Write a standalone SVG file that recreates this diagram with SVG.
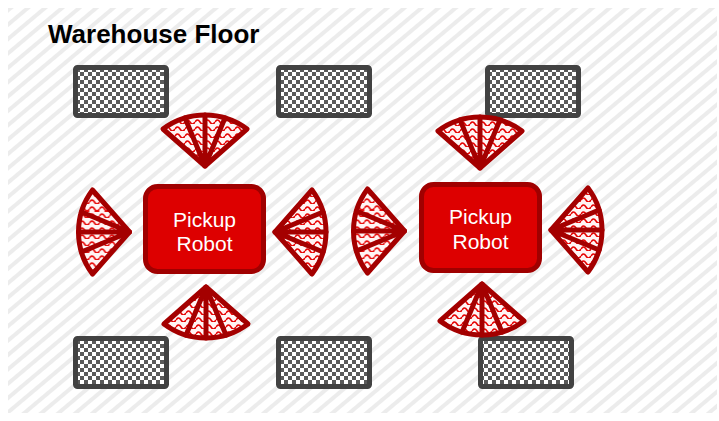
<svg xmlns="http://www.w3.org/2000/svg" xmlns:xlink="http://www.w3.org/1999/xlink" width="719" height="421" viewBox="0 0 719 421">
  <style>
    .title { font-family: "Liberation Sans", Arial, sans-serif; font-weight: bold; font-size: 26px; fill: #000; }
    .shelf { fill: url(#checker); stroke: #424242; stroke-width: 5; }
    .robot rect { fill: #dd0000; stroke: #a00000; stroke-width: 5; }
    .robot text { font-family: "Liberation Sans", Arial, sans-serif; font-size: 21px; fill: #ffffff; text-anchor: middle; }
    .fan-body { fill: url(#waves); stroke: #a40000; stroke-width: 5; stroke-linejoin: round; }
    .fan-spokes { fill: none; stroke: #a40000; stroke-width: 5; stroke-linecap: round; }
  </style>
  <defs>
    <pattern id="stripes" patternUnits="userSpaceOnUse" width="11" height="11" patternTransform="rotate(-40)">
      <rect width="11" height="11" fill="#ffffff"/>
      <rect width="11" height="4" fill="#ececec"/>
    </pattern>
    <pattern id="checker" patternUnits="userSpaceOnUse" width="8" height="8">
      <rect width="8" height="8" fill="#ffffff"/>
      <rect width="4" height="4" fill="#5a5a5a"/>
      <rect x="4" y="4" width="4" height="4" fill="#5a5a5a"/>
    </pattern>
    <pattern id="waves" patternUnits="userSpaceOnUse" width="10" height="7">
      <rect width="10" height="7" fill="#fff4f4"/>
      <path d="M0,5 Q2.5,1 5,5 T10,5" fill="none" stroke="#e60000" stroke-width="1.5"/>
    </pattern>
    <g id="fan-up">
      <path class="fan-body" d="M0,0 L-42,-37 A70,70 0 0 1 42,-37 Z"/>
      <path class="fan-spokes" d="M0,0 L-20,-48.1 M0,0 L0,-51 M0,0 L20,-48.1"/>
    </g>
    <g id="fan-down">
      <path class="fan-body" d="M0,0 L42,37 A70,70 0 0 1 -42,37 Z"/>
      <path class="fan-spokes" d="M0,0 L20,48.1 M0,0 L0,51 M0,0 L-20,48.1"/>
    </g>
    <g id="fan-left">
      <path class="fan-body" d="M0,0 L-37,42 A70,70 0 0 1 -37,-42 Z"/>
      <path class="fan-spokes" d="M0,0 L-48.1,20 M0,0 L-51,0 M0,0 L-48.1,-20"/>
    </g>
    <g id="fan-right">
      <path class="fan-body" d="M0,0 L37,-42 A70,70 0 0 1 37,42 Z"/>
      <path class="fan-spokes" d="M0,0 L48.1,-20 M0,0 L51,0 M0,0 L48.1,20"/>
    </g>
  </defs>

  <rect x="0" y="0" width="719" height="421" fill="#ffffff"/>
  <g id="floor">
    <rect x="8" y="8" width="709" height="405" fill="url(#stripes)"/>
    <text class="title" x="48" y="43">Warehouse Floor</text>
  </g>

  <g id="shelf-1"><rect class="shelf" x="75.5" y="67.5" width="91" height="48" rx="2"/></g>
  <g id="shelf-2"><rect class="shelf" x="278.5" y="67.5" width="91" height="48" rx="2"/></g>
  <g id="shelf-3"><rect class="shelf" x="487.5" y="67.5" width="91" height="48" rx="2"/></g>
  <g id="shelf-4"><rect class="shelf" x="75.5" y="338.5" width="91" height="48" rx="2"/></g>
  <g id="shelf-5"><rect class="shelf" x="278.5" y="338.5" width="91" height="48" rx="2"/></g>
  <g id="shelf-6"><rect class="shelf" x="480.5" y="338.5" width="91" height="48" rx="2"/></g>

  <g id="robot-1" class="robot">
    <rect x="145.5" y="186.5" width="118" height="85" rx="12"/>
    <text x="204.5" y="226.5">Pickup</text>
    <text x="204.5" y="251">Robot</text>
  </g>
  <g id="robot-2" class="robot">
    <rect x="421.5" y="184.5" width="118" height="86" rx="12"/>
    <text x="480.5" y="223.5">Pickup</text>
    <text x="480.5" y="248.5">Robot</text>
  </g>

  <g id="sensor-1-top"><use xlink:href="#fan-up" href="#fan-up" transform="translate(205,166)"/></g>
  <g id="sensor-1-bottom"><use xlink:href="#fan-down" href="#fan-down" transform="translate(206,287)"/></g>
  <g id="sensor-1-left"><use xlink:href="#fan-left" href="#fan-left" transform="translate(129.5,232)"/></g>
  <g id="sensor-1-right"><use xlink:href="#fan-right" href="#fan-right" transform="translate(275,232)"/></g>

  <g id="sensor-2-top"><use xlink:href="#fan-up" href="#fan-up" transform="translate(480,168)"/></g>
  <g id="sensor-2-bottom"><use xlink:href="#fan-down" href="#fan-down" transform="translate(482,284)"/></g>
  <g id="sensor-2-left"><use xlink:href="#fan-left" href="#fan-left" transform="translate(404.5,231)"/></g>
  <g id="sensor-2-right"><use xlink:href="#fan-right" href="#fan-right" transform="translate(551,230)"/></g>
</svg>
